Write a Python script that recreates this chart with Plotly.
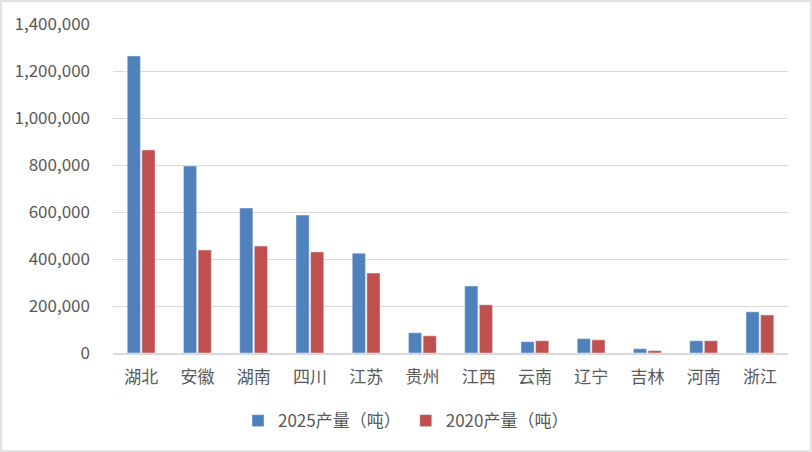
import plotly.graph_objects as go

provinces = ['湖北', '安徽', '湖南', '四川', '江苏', '贵州', '江西', '云南', '辽宁', '吉林', '河南', '浙江']
output_2025 = [1264000, 796000, 617000, 587000, 425000, 86000, 285000, 48000, 61000, 18000, 52000, 175000]
output_2020 = [864000, 438000, 455000, 430000, 340000, 73000, 205000, 52000, 56000, 10000, 52000, 162000]
names = ['2025产量（吨）', '2020产量（吨）']

font_family = 'Noto Sans CJK SC, Noto Sans, sans-serif'

fig = go.Figure()
fig.add_trace(go.Bar(x=provinces, y=output_2025, name=names[0], marker_color='#4f81bd'))
fig.add_trace(go.Bar(x=provinces, y=output_2020, name=names[1], marker_color='#c0504d'))

fig.update_layout(
    width=812, height=452,
    margin=dict(l=113, r=24, t=24, b=99, autoexpand=False),
    paper_bgcolor='white', plot_bgcolor='white',
    barmode='group', bargap=0.48, bargroupgap=0.1,
    font=dict(family=font_family, size=16, color='#595959'),
    legend=dict(orientation='h', xref='container', x=0.5, xanchor='center',
                y=-0.207, yanchor='middle',
                font=dict(size=17, color='#595959'), itemwidth=30),
    showlegend=True,
)
fig.update_yaxes(range=[0, 1400000], dtick=200000, tickformat=',', showgrid=True,
                 gridcolor='#d9d9d9', gridwidth=1, zeroline=False, showline=False,
                 automargin=False, ticklabelstandoff=22, tickfont=dict(size=17))
fig.update_xaxes(showline=True, linecolor='#d9d9d9', linewidth=2, ticks='',
                 automargin=False, ticklabelstandoff=8, tickfont=dict(size=17))

# outer frame
fig.add_shape(type='rect', xref='paper', yref='paper',
              x0=-112 / 675, x1=1 + 23 / 675, y0=-98 / 329, y1=1 + 23 / 329,
              line=dict(color='#d9d9d9', width=1.5), fillcolor='rgba(0,0,0,0)')

# drop the browser's default page margin so the figure sits at the window corner
fig.write_html('out.html', config={'displayModeBar': False},
               post_script="document.body.style.margin='0';")
